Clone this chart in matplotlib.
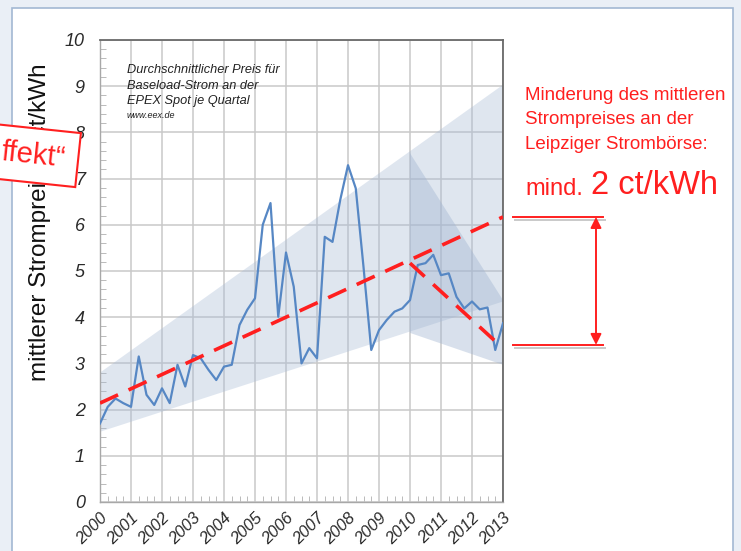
import matplotlib
matplotlib.use('Agg')
import matplotlib.pyplot as plt
import matplotlib.patheffects as pe
from matplotlib.patches import Rectangle
from matplotlib.ticker import MultipleLocator
import numpy as np

plt.rcParams['font.family'] = ['Liberation Sans', 'DejaVu Sans']

# ---------------- data ----------------
quarters = np.arange(2000.0, 2013.01, 0.25)
prices = [1.70, 2.06, 2.24, 2.14, 2.06, 3.15, 2.32, 2.10, 2.46, 2.14,
          2.97, 2.50, 3.18, 3.11, 2.86, 2.64, 2.93, 2.97, 3.83, 4.16,
          4.41, 6.00, 6.47, 4.01, 5.40, 4.66, 3.00, 3.33, 3.11, 5.74,
          5.63, 6.54, 7.29, 6.79, 5.09, 3.29, 3.72, 3.94, 4.12, 4.19,
          4.37, 5.13, 5.17, 5.35, 4.91, 4.95, 4.44, 4.19, 4.34, 4.17,
          4.21, 3.29, 3.87]

trend_years = [2000, 2013]
trend_values = [2.14, 6.17]
decline_years = [2010, 2012.8]
decline_values = [5.17, 3.45]

cone_years = [2000, 2013, 2013, 2000]
cone_values = [2.80, 9.03, 4.34, 1.52]
cone2_years = [2010, 2013, 2013, 2010]
cone2_values = [7.55, 4.37, 2.97, 3.66]

year_ticks = list(range(2000, 2014))
year_labels = [str(y) for y in year_ticks]
value_ticks = list(range(0, 11))

RED = '#ff1f1f'

# ---------------- figure ----------------
fig = plt.figure(figsize=(7.41, 5.51), dpi=100, facecolor='#eaeff6')

# white panel
panel = Rectangle((12/741, -0.05), (733-12)/741, 1 - 8/551 + 0.05,
                  transform=fig.transFigure, facecolor='white',
                  edgecolor='#a3b8d3', linewidth=1.2, zorder=-5)
fig.patches.append(panel)

ax = fig.add_axes([100/741, 49/551, 403/741, 462/551])
ax.set_zorder(1)
ax.set_xlim(2000, 2013)
ax.set_ylim(0, 10)
ax.set_facecolor('white')

# grid
ax.set_xticks(year_ticks)
ax.set_xticklabels(year_labels, rotation=45, ha='right', rotation_mode='anchor',
                   fontsize=12, style='italic', color='#2a2a2a')
ax.set_yticks(value_ticks)
ax.set_yticklabels([str(v) for v in value_ticks], fontsize=13,
                   style='italic', color='#2a2a2a')
ax.xaxis.set_minor_locator(MultipleLocator(0.25))
ax.yaxis.set_minor_locator(MultipleLocator(0.2))
ax.grid(True, which='major', color='#c9c9c9', linewidth=1.1, zorder=0)
ax.tick_params(axis='y', which='major', length=0, pad=11)
ax.tick_params(axis='x', which='major', length=0, pad=6)
ax.tick_params(axis='both', which='minor', direction='in', length=4,
               color='#b0b0b0')
ax.tick_params(axis='x', which='minor', top=False)
for s in ['top', 'right']:
    ax.spines[s].set_color('#6a6a6a')
    ax.spines[s].set_linewidth(1.3)
for s in ['left', 'bottom']:
    ax.spines[s].set_color('#a8a8a8')
    ax.spines[s].set_linewidth(1.0)
ax.set_axisbelow(True)

# shaded cones
ax.fill(cone_years, cone_values, facecolor='#a9bcd6', alpha=0.37,
        edgecolor='none', zorder=1)
ax.fill(cone2_years, cone2_values, facecolor='#9fb3d0', alpha=0.40,
        edgecolor='none', zorder=1)

# price line
ax.plot(quarters, prices, color='#5687c4', linewidth=1.6, zorder=3)

# dashed trend lines
ax.plot(trend_years, trend_values, color=RED, linewidth=2.6,
        dashes=(5.5, 3.2), zorder=4)
ax.plot(decline_years, decline_values, color=RED, linewidth=2.6,
        dashes=(5.5, 3.2), zorder=4)

# right-hand bracket
shadow = [pe.SimpleLineShadow(offset=(1.5, -2.5), shadow_color='#888888',
                              alpha=0.45), pe.Normal()]
ax.plot([2013.32, 2016.23], [trend_values[1]] * 2, color=RED, linewidth=1.4,
        clip_on=False, path_effects=shadow, zorder=5)
ax.plot([2013.32, 2016.23], [3.40, 3.40], color=RED, linewidth=1.4,
        clip_on=False, path_effects=shadow, zorder=5)
ax.annotate('', xy=(2016.0, trend_values[1]), xytext=(2016.0, 3.40),
            arrowprops=dict(arrowstyle='<|-|>', color=RED, lw=1.4,
                            mutation_scale=16, shrinkA=0, shrinkB=0),
            annotation_clip=False, zorder=5)

# in-plot caption
cap_kw = dict(transform=fig.transFigure, style='italic', color='#222222',
              va='center')
ax.text(127/741, 1 - 70/551, 'Durchschnittlicher Preis für', fontsize=9.2, **cap_kw)
ax.text(127/741, 1 - 86/551, 'Baseload-Strom an der', fontsize=9.2, **cap_kw)
ax.text(127/741, 1 - 101/551, 'EPEX Spot je Quartal', fontsize=9.2, **cap_kw)
ax.text(127/741, 1 - 115/551, 'www.eex.de', fontsize=6.5, **cap_kw)

# y label
fig.text(40/741, 1 - 222/551, 'mittlerer Strompreis in ct/kWh',
         rotation=90, fontsize=17.5, color='#111111',
         ha='center', va='center')

# red annotation texts
txt_kw = dict(color=RED, fontsize=13.5, ha='left', va='center')
fig.text(525/741, 1 - 95/551, 'Minderung des mittleren', **txt_kw)
fig.text(525/741, 1 - 120/551, 'Strompreises an der', **txt_kw)
fig.text(525/741, 1 - 145/551, 'Leipziger Strombörse:', **txt_kw)
fig.text(525/741, 1 - 189/551, 'mind.', color=RED, fontsize=17,
         ha='left', va='center')
fig.text(591/741, 1 - 186/551, '2 ct/kWh', color=RED, fontsize=23.5,
         ha='left', va='center')

# red stamp box at left
fig.text(1/741, 1 - 152/551, 'ffekt\u201c', color=RED, fontsize=21,
         ha='left', va='center', rotation=-6, rotation_mode='anchor',
         zorder=10,
         bbox=dict(boxstyle='square,pad=0.45', facecolor='white',
                   edgecolor=RED, linewidth=1.5))

fig.savefig('out.png', dpi=100, facecolor=fig.get_facecolor())
